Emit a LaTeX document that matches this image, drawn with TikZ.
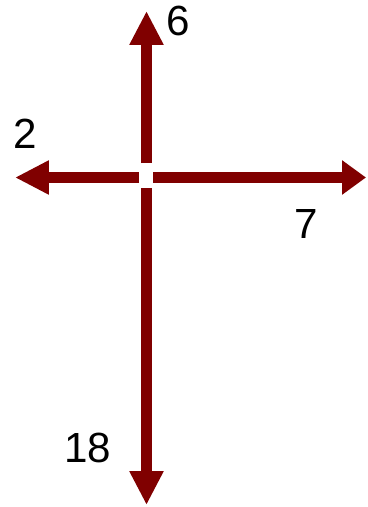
\documentclass[tikz,border=0pt]{standalone}
\usepackage{fontspec}
\setmainfont{Liberation Sans}
\usetikzlibrary{arrows.meta}
\definecolor{maroonarrow}{RGB}{128,0,0}
\begin{document}
\begin{tikzpicture}[x=0.02cm,y=-0.02cm,
  shaft/.style={draw=maroonarrow,line width=0.22cm},
  headed/.style={shaft,-{Triangle[length=0.68cm,width=0.64cm]}},
  shorthead/.style={shaft,-{Triangle[length=0.48cm,width=0.66cm]}},
  lbl/.style={font=\fontsize{24}{28}\selectfont,inner sep=0pt}]
\useasboundingbox (0,0) rectangle (368,507);
\coordinate (vtop) at (146.5,163);
\coordinate (vbot) at (146.5,188);
\coordinate (hleft) at (139,177.5);
\coordinate (hright) at (153,177.5);
\coordinate (tipN) at (146.5,11);
\coordinate (tipS) at (146.5,505);
\coordinate (tipW) at (15,177.5);
\coordinate (tipE) at (366,177.5);
\draw[headed] (vtop) -- (tipN);
\draw[headed] (vbot) -- (tipS);
\draw[headed] (hleft) -- (tipW);
\draw[shorthead] (hright) -- (tipE);
\node[lbl] (l6) at (178,21) {6};
\node[lbl] (l2) at (25,134) {2};
\node[lbl] (l7) at (306,224) {7};
\node[lbl] (l18) at (88,448) {18};
\end{tikzpicture}
\end{document}
